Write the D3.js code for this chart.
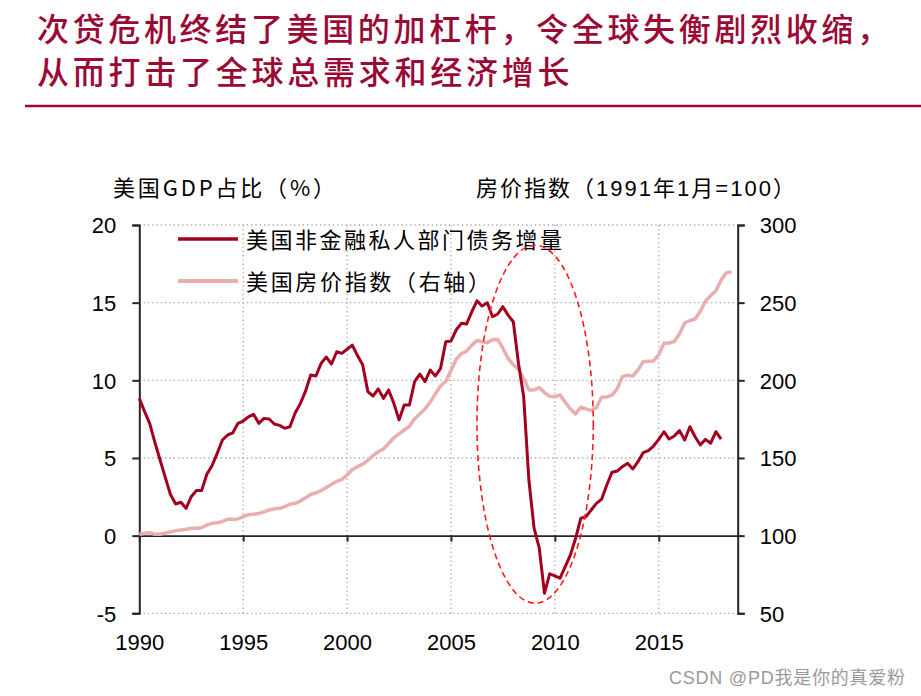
<!DOCTYPE html>
<html><head><meta charset="utf-8">
<script src="https://cdn.jsdelivr.net/npm/d3@7"></script>
<style>html,body{margin:0;padding:0;background:#fff;} svg{display:block;}</style>
</head><body>
<svg id="chart" width="921" height="696"></svg>
<script>
// ---------- data ----------
const titleLines = ["次贷危机终结了美国的加杠杆，令全球失衡剧烈收缩，", "从而打击了全球总需求和经济增长"];
const seriesNames = ["美国非金融私人部门债务增量", "美国房价指数（右轴）"];
const leftTitle = "美国GDP占比（%）";
const rightTitle = "房价指数（1991年1月=100）";
const watermark = "CSDN @PD我是你的真爱粉";

const startYear = 1990;      // first quarter = 1990Q1
const periodsPerYear = 4;    // quarterly data

// 美国非金融私人部门债务增量 (% of GDP), quarterly 1990Q1–2018Q1
const debtFlow = [
  8.84, 8.0, 7.23, 6.0,
  4.87, 3.75, 2.65, 2.04,
  2.15, 1.76, 2.51, 2.9,
  2.9, 3.95, 4.5, 5.3,
  6.16, 6.48, 6.62, 7.23,
  7.38, 7.65, 7.81, 7.23,
  7.55, 7.51, 7.19, 7.1,
  6.91, 7.01, 7.9, 8.5,
  9.3, 10.34, 10.28, 11.09,
  11.5, 11.05, 11.84, 11.73,
  12.0, 12.27, 11.6, 11.0,
  9.27, 8.99, 9.45, 8.84,
  9.38, 8.52, 7.45, 8.41,
  8.41, 9.91, 10.4, 9.91,
  10.66, 10.28, 10.77, 12.48,
  12.53, 13.24, 13.67, 13.62,
  14.41, 15.12, 14.78, 14.99,
  14.09, 14.27, 14.74, 14.2,
  13.77, 11.09, 8.94, 3.58,
  0.48, -0.81, -3.71, -2.46,
  -2.59, -2.74, -1.99, -1.24,
  -0.17, 1.12, 1.22, 1.65,
  2.08, 2.34, 3.26, 4.08,
  4.16, 4.44, 4.66, 4.29,
  4.76, 5.34, 5.47, 5.77,
  6.2, 6.69, 6.22, 6.42,
  6.76, 6.16, 7.01, 6.37,
  5.84, 6.2, 5.95, 6.69,
  6.22
];

// 美国房价指数 (1991年1月=100), quarterly 1990Q1–2018Q3
const housePrice = [
  100.9, 101.5, 101.9, 100.9,
  100.9, 101.7, 102.3, 103.2,
  103.7, 104.1, 104.8, 104.8,
  105.1, 106.9, 107.9, 108.3,
  109.0, 110.6, 110.6, 110.7,
  112.2, 113.5, 113.8, 114.3,
  115.3, 116.5, 117.3, 117.6,
  118.7, 120.2, 120.8, 122.2,
  124.4, 126.5, 127.6, 129.0,
  131.0, 133.0, 135.0, 136.2,
  139.0, 142.6, 144.4, 146.0,
  148.5, 151.5, 154.0, 155.8,
  159.3, 163.0, 165.5, 168.0,
  170.4, 175.3, 178.3, 181.6,
  186.0, 191.3, 196.3, 199.3,
  206.3, 213.6, 217.2, 218.8,
  222.5, 225.7, 224.8, 224.2,
  226.2, 226.3, 220.7, 214.1,
  210.0, 207.1, 201.0, 193.8,
  193.8, 195.3, 192.1, 189.7,
  189.5, 190.5, 185.8, 181.5,
  178.4, 182.8, 181.6, 180.5,
  182.5, 189.1, 189.3, 190.5,
  194.5, 202.4, 203.3, 202.8,
  206.6, 212.0, 212.2, 212.5,
  216.5, 223.8, 224.0, 225.0,
  230.0, 236.9, 238.5, 239.5,
  244.5, 251.0, 254.6, 257.6,
  264.5, 269.2, 269.9
];

const xTicks = [1990, 1995, 2000, 2005, 2010, 2015];
const leftTicks = [-5, 0, 5, 10, 15, 20];
const rightTicks = [50, 100, 150, 200, 250, 300];
const xDomain = [1990, 2018.8];
const leftDomain = [-5, 20];
const rightDomain = [50, 300];
// annotation ellipse bounds (data units)
const ellipseYears = [2006.25, 2011.85];
const ellipseValues = [-4.35, 18.7];

// ---------- styles ----------
const C_TITLE = "#9B0A36";
const C_DEBT = "#A3001F";
const C_HPI = "#E9AEAE";
const C_AXIS = "#262626";
const C_GRID = "#A6A6A6";
const FONT = "'Liberation Sans', Arial, 'Noto Sans CJK SC', sans-serif";
const CJK = "'Noto Sans CJK SC', 'Liberation Sans', sans-serif";
const plain = d => String(d);

const svg = d3.select("#chart");
const x = d3.scaleLinear().domain(xDomain).range([139.3, 737.7]);
const yL = d3.scaleLinear().domain(leftDomain).range([613.3, 225]);
const yR = d3.scaleLinear().domain(rightDomain).range([613.3, 225]);
const tOf = i => startYear + i / periodsPerYear;

// title
svg.selectAll("text.title").data(titleLines).join("text")
  .attr("class", "title")
  .attr("x", 37).attr("y", (d, i) => 41 + i * 43)
  .attr("font-family", CJK).attr("font-size", 32).attr("font-weight", 500)
  .attr("fill", C_TITLE)
  .attr("textLength", d => d.length * 35.5).attr("lengthAdjust", "spacing")
  .text(d => d);
svg.append("line").attr("x1", 25).attr("x2", 921).attr("y1", 106).attr("y2", 106)
  .attr("stroke", C_TITLE).attr("stroke-width", 2.5);

// axis titles
svg.append("text").attr("x", 113).attr("y", 196)
  .attr("font-family", CJK).attr("font-size", 22).attr("fill", "#000")
  .attr("textLength", 222).attr("lengthAdjust", "spacing").text(leftTitle);
svg.append("text").attr("x", 476).attr("y", 196)
  .attr("font-family", FONT).attr("font-size", 22).attr("fill", "#000")
  .attr("textLength", 319).attr("lengthAdjust", "spacing").text(rightTitle);

// grid
const grid = svg.append("g");
grid.selectAll("line.h").data(leftTicks.filter(d => d !== 0)).join("line")
  .attr("x1", x(xDomain[0])).attr("x2", x(xDomain[1]))
  .attr("y1", d => yL(d)).attr("y2", d => yL(d))
  .attr("stroke", C_GRID).attr("stroke-width", 1.3).attr("stroke-dasharray", "1.3,3");
grid.selectAll("line.v").data(xTicks.filter(d => d !== xDomain[0])).join("line")
  .attr("x1", d => x(d)).attr("x2", d => x(d))
  .attr("y1", yL(leftDomain[1])).attr("y2", yL(leftDomain[0]))
  .attr("stroke", C_GRID).attr("stroke-width", 1.3).attr("stroke-dasharray", "1.3,3");

// axes
function styleAxis(g) {
  g.selectAll("path.domain").attr("stroke", C_AXIS).attr("stroke-width", 2);
  g.selectAll(".tick line").attr("stroke", C_AXIS).attr("stroke-width", 2);
  g.selectAll("text").attr("font-family", FONT).attr("font-size", 22).attr("fill", "#000");
}
const gL = svg.append("g").attr("transform", `translate(${x(xDomain[0])},0)`)
  .call(d3.axisLeft(yL).tickValues(leftTicks).tickFormat(plain).tickSize(7).tickSizeOuter(7).tickPadding(16));
styleAxis(gL); gL.selectAll("text").attr("dy", "0.36em");
const gR = svg.append("g").attr("transform", `translate(${x(xDomain[1])},0)`)
  .call(d3.axisRight(yR).tickValues(rightTicks).tickFormat(plain).tickSize(7).tickSizeOuter(7).tickPadding(15));
styleAxis(gR); gR.selectAll("text").attr("dy", "0.36em");
const gX = svg.append("g").attr("transform", `translate(0,${yL(0)})`)
  .call(d3.axisBottom(x).tickValues(xTicks).tickSize(6).tickSizeOuter(0).tickFormat(""));
styleAxis(gX); gX.select("path.domain").attr("stroke-width", 1.8);
const gXL = svg.append("g").attr("transform", `translate(0,${yL(leftDomain[0])})`)
  .call(d3.axisBottom(x).tickValues(xTicks).tickSize(0).tickPadding(21).tickFormat(plain));
styleAxis(gXL); gXL.select("path.domain").remove();

// lines
const lineL = d3.line().x((d, i) => x(tOf(i))).y(d => yL(d));
const lineR = d3.line().x((d, i) => x(tOf(i))).y(d => yR(d));
svg.append("path").datum(housePrice).attr("d", lineR)
  .attr("fill", "none").attr("stroke", C_HPI).attr("stroke-width", 3.5).attr("stroke-linejoin", "round");
svg.append("path").datum(debtFlow).attr("d", lineL)
  .attr("fill", "none").attr("stroke", C_DEBT).attr("stroke-width", 3).attr("stroke-linejoin", "round");

// legend
const legend = svg.append("g");
const legendColors = [C_DEBT, C_HPI];
const legendY = [239, 281];
const legendLen = [316, 244];
seriesNames.forEach((name, i) => {
  legend.append("line").attr("x1", 178).attr("x2", 238).attr("y1", legendY[i]).attr("y2", legendY[i])
    .attr("stroke", legendColors[i]).attr("stroke-width", i === 0 ? 3.5 : 4);
  legend.append("text").attr("x", 246).attr("y", legendY[i] + 9)
    .attr("font-family", CJK).attr("font-size", 22).attr("fill", "#000")
    .attr("textLength", legendLen[i]).attr("lengthAdjust", "spacing").text(name);
});

// annotation ellipse
svg.append("ellipse")
  .attr("cx", (x(ellipseYears[0]) + x(ellipseYears[1])) / 2)
  .attr("cy", (yL(ellipseValues[0]) + yL(ellipseValues[1])) / 2)
  .attr("rx", (x(ellipseYears[1]) - x(ellipseYears[0])) / 2)
  .attr("ry", (yL(ellipseValues[0]) - yL(ellipseValues[1])) / 2)
  .attr("fill", "none").attr("stroke", "#FF1A1A").attr("stroke-width", 1.6)
  .attr("stroke-dasharray", "6,4");

// watermark
svg.append("text").attr("x", 905).attr("y", 684).attr("text-anchor", "end")
  .attr("font-family", FONT).attr("font-size", 18).attr("fill", "#9a9a9a")
  .attr("textLength", 236).attr("lengthAdjust", "spacing")
  .text(watermark);
</script>
</body></html>
